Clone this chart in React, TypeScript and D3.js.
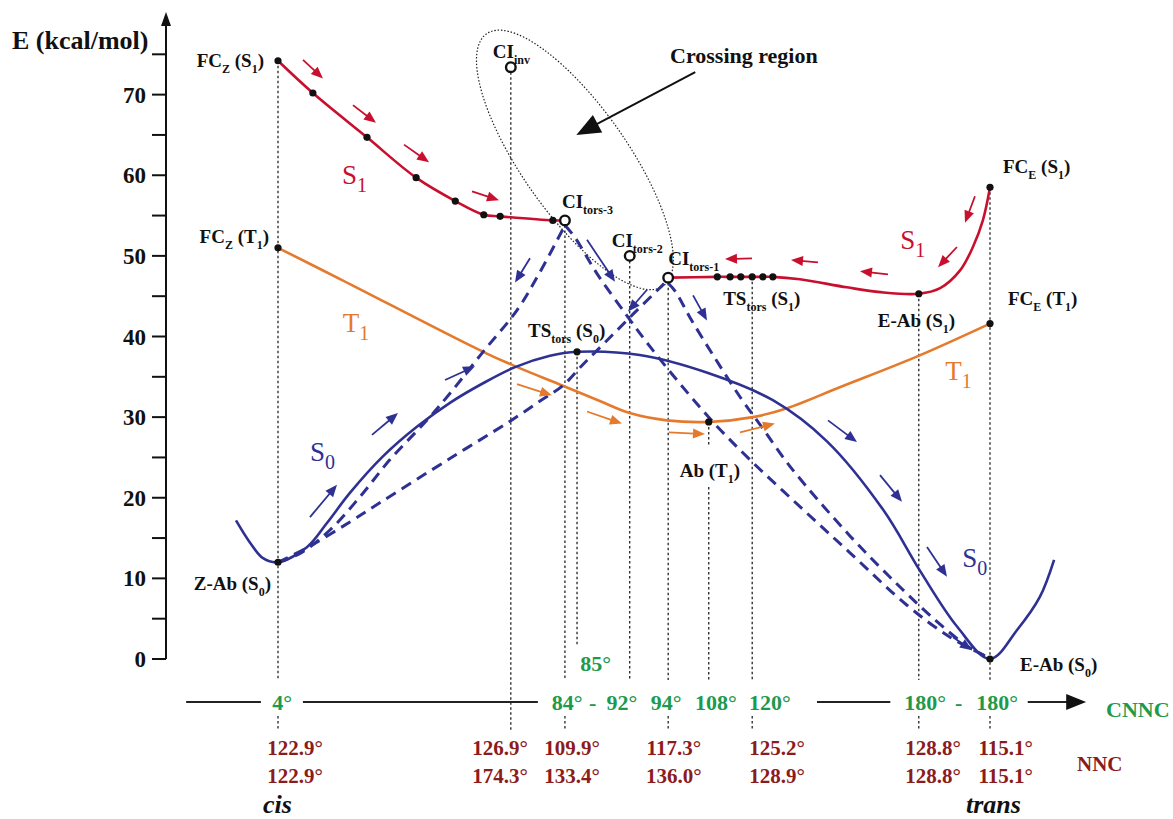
import React from 'react';
import * as d3 from 'd3';

const WIDTH = 1173;
const HEIGHT = 819;
const FONT = "'Liberation Serif', 'Times New Roman', serif";

// colours
const RED = '#c8102e';
const ORANGE = '#e57a2c';
const BLUE = '#2e3192';
const GREEN = '#1d9a4c';
const BROWN = '#8b1c1c';

// ---------- data (reaction coordinate u: 0 = cis, 100 = trans; energy in kcal/mol) ----------
const yTickValues = d3.range(0, 80, 5);
const yTickLabels = [0, 10, 20, 30, 40, 50, 60, 70];

const s1LeftU = [0, 4.9, 12.5, 19.4, 24.9, 28.9, 31.2, 38.6, 40.3];
const s1LeftE = [74.2, 70.2, 64.7, 59.7, 56.8, 55.1, 54.9, 54.4, 54.4];
const s1LeftDots = [0, 1, 2, 3, 4, 5, 6, 7];

const s1RightU = [54.8, 61.7, 63.5, 65.0, 66.6, 68.1, 69.5, 73.3, 79.9, 84.6, 90.0, 93.0, 95.8, 97.6, 99.0, 100];
const s1RightE = [47.3, 47.4, 47.4, 47.4, 47.4, 47.4, 47.4, 47.1, 46.1, 45.5, 45.3, 46.0, 48.2, 51.1, 54.4, 58.5];
const s1RightDots = [1, 2, 3, 4, 5, 6, 10, 15];

const t1U = [0, 9.0, 28.8, 33.6, 40.0, 45.2, 49.4, 54.6, 60.5, 66.7, 71.5, 78.9, 89.7, 100];
const t1E = [51.0, 47.0, 38.1, 36.2, 33.9, 32.0, 30.5, 29.6, 29.4, 30.0, 31.1, 33.7, 37.5, 41.6];
const t1Dots = [0, 8, 13];

const s0U = [-5.9, -3.9, -2.1, 0, 4.1, 6.9, 10.1, 14.7, 19.5, 24.2, 28.8, 33.3, 38.2, 42.0, 50.8, 60.3, 69.5, 77.1, 85.0, 90.2, 95.4, 100, 103.8, 107.0, 109.0];
const s0E = [17.2, 14.4, 12.5, 12.0, 13.9, 16.9, 20.6, 25.1, 28.8, 31.8, 34.2, 36.2, 37.6, 38.1, 37.7, 35.5, 32.1, 27.0, 18.5, 10.9, 4.0, 0, 3.6, 7.7, 12.3];
const s0Dots = [3, 13, 21];

// dashed relaxation paths
const pathAU = [0, 3.1, 7.3, 11.5, 15.7, 20.9, 24.2, 28.8, 33.6, 36.8, 40.3];
const pathAE = [12.0, 13.1, 16.0, 20.1, 24.7, 29.6, 33.0, 38.1, 43.3, 48.0, 53.8];
const pathBU = [0, 4.5, 10.1, 14.7, 24.2, 32.6, 36.8, 40.0, 42.8, 46.2, 49.9, 53.7, 54.8];
const pathBE = [12.0, 14.0, 17.0, 19.6, 24.9, 29.5, 32.0, 33.9, 36.5, 39.5, 42.8, 46.1, 47.1];
const pathDU = [40.3, 41.7, 44.8, 49.0, 52.2, 56.5, 61.1, 66.3, 73.3, 80.3, 88.3, 94.4, 99.3];
const pathDE = [53.8, 52.3, 47.8, 42.6, 38.8, 34.1, 29.4, 24.7, 18.9, 13.2, 6.7, 2.7, 0.4];
const pathEU = [54.8, 55.8, 57.9, 61.1, 64.9, 68.0, 71.9, 80.3, 87.4, 92.6, 96.8, 99.3];
const pathEE = [46.6, 45.6, 42.3, 37.7, 32.5, 28.7, 23.9, 15.3, 8.9, 4.6, 1.6, 0.4];

// conical intersections (hollow markers)
const ciU = [32.7, 40.3, 49.4, 54.8];
const ciE = [73.4, 54.4, 50.0, 47.3];

// vertical guides
const guideU = [0, 32.7, 40.3, 42.0, 49.4, 54.8, 60.5, 66.6, 90.0, 100];
const guideTopE = [74.2, 73.4, 54.4, 38.1, 50.0, 47.3, 29.4, 47.4, 45.3, 58.5];

// arrows [u1, e1, u2, e2]
const redArrows = [
  [3.51, 74.3, 6.32, 72.0],
  [10.53, 68.7, 13.76, 66.5],
  [17.7, 63.8, 21.21, 61.6],
  [27.25, 58.0, 31.04, 56.9],
  [66.57, 49.7, 62.78, 49.6],
  [75.84, 49.2, 72.05, 49.5],
  [85.67, 47.7, 81.74, 48.1],
  [95.36, 51.1, 92.7, 48.6],
  [97.89, 57.4, 96.49, 54.1],
];
const orangeArrows = [
  [33.57, 34.1, 38.48, 32.7],
  [43.4, 30.7, 48.31, 29.2],
  [54.92, 28.1, 59.97, 27.9],
  [64.89, 28.1, 69.8, 29.2],
];
const blueArrows = [
  [4.49, 17.6, 8.29, 21.6],
  [13.2, 27.8, 16.85, 30.5],
  [23.46, 34.6, 27.67, 36.3],
  [77.25, 29.6, 81.32, 26.9],
  [84.55, 22.8, 87.64, 19.5],
  [91.15, 13.9, 93.96, 10.2],
  [35.39, 49.7, 33.29, 46.7],
  [43.4, 52.0, 47.33, 46.8],
  [51.83, 45.8, 49.16, 43.1],
  [58.29, 45.1, 60.25, 42.0],
  [94.8, 2.7, 97.47, 1.1],
];

// bottom angle labels
const cnncLabels = ['4°', '84°', '-', '92°', '94°', '108°', '120°', '180°', '-', '180°'];
const cnncU = [0.6, 40.6, 44.2, 48.3, 54.5, 61.5, 69.1, 90.9, 95.6, 101.0];
const nncRow1 = ['122.9°', '126.9°', '109.9°', '117.3°', '125.2°', '128.8°', '115.1°'];
const nncRow2 = ['122.9°', '174.3°', '133.4°', '136.0°', '128.9°', '128.8°', '115.1°'];
const nncU = [2.4, 31.2, 41.3, 55.6, 70.1, 92.0, 102.2];

type Part = string | { s: string };

const pointLabels: { u: number; e: number; dx: number; dy: number; anchor: string; parts: Part[] }[] = [
  { u: 0, e: 74.2, dx: -14, dy: 6, anchor: 'end', parts: ['FC', { s: 'Z' }, ' (S', { s: '1' }, ')'] },
  { u: 0, e: 51.0, dx: -9, dy: -5, anchor: 'end', parts: ['FC', { s: 'Z' }, ' (T', { s: '1' }, ')'] },
  { u: 0, e: 12.0, dx: -7, dy: 28, anchor: 'end', parts: ['Z-Ab (S', { s: '0' }, ')'] },
  { u: 32.7, e: 73.4, dx: -18, dy: -9, anchor: 'start', parts: ['CI', { s: 'inv' }] },
  { u: 40.3, e: 54.4, dx: -3, dy: -12, anchor: 'start', parts: ['CI', { s: 'tors-3' }] },
  { u: 49.4, e: 50.0, dx: -18, dy: -9, anchor: 'start', parts: ['CI', { s: 'tors-2' }] },
  { u: 54.8, e: 47.3, dx: 0, dy: -13, anchor: 'start', parts: ['CI', { s: 'tors-1' }] },
  { u: 66.6, e: 47.4, dx: -29, dy: 28, anchor: 'start', parts: ['TS', { s: 'tors' }, ' (S', { s: '1' }, ')'] },
  { u: 42.0, e: 38.1, dx: -49, dy: -15, anchor: 'start', parts: ['TS', { s: 'tors' }, ' (S', { s: '0' }, ')'] },
  { u: 60.5, e: 29.4, dx: -29, dy: 55, anchor: 'start', parts: ['Ab (T', { s: '1' }, ')'] },
  { u: 90.0, e: 45.3, dx: -41, dy: 33, anchor: 'start', parts: ['E-Ab (S', { s: '1' }, ')'] },
  { u: 100, e: 58.5, dx: 13, dy: -14, anchor: 'start', parts: ['FC', { s: 'E' }, ' (S', { s: '1' }, ')'] },
  { u: 100, e: 41.6, dx: 18, dy: -19, anchor: 'start', parts: ['FC', { s: 'E' }, ' (T', { s: '1' }, ')'] },
  { u: 100, e: 0, dx: 30, dy: 12, anchor: 'start', parts: ['E-Ab (S', { s: '0' }, ')'] },
];

const stateLabels: { u: number; e: number; main: string; sub: string; color: string }[] = [
  { u: 9.0, e: 58.9, main: 'S', sub: '1', color: RED },
  { u: 87.4, e: 50.8, main: 'S', sub: '1', color: RED },
  { u: 9.1, e: 40.6, main: 'T', sub: '1', color: ORANGE },
  { u: 93.7, e: 34.6, main: 'T', sub: '1', color: ORANGE },
  { u: 4.5, e: 24.6, main: 'S', sub: '0', color: BLUE },
  { u: 96.1, e: 11.4, main: 'S', sub: '0', color: BLUE },
];

// ---------- scales ----------
const x = d3.scaleLinear().domain([0, 100]).range([278, 990]);
const y = d3.scaleLinear().domain([0, 80]).range([659, 14]);

const AXIS_X = 166;
const BASE_Y = 702;

const lineGen = d3
  .line<[number, number]>()
  .x((d) => x(d[0]))
  .y((d) => y(d[1]))
  .curve(d3.curveCatmullRom.alpha(0.5));

const zip = (u: number[], e: number[]) => u.map((v, i) => [v, e[i]] as [number, number]);

function Rich({ x: tx, y: ty, parts, size, subSize, anchor = 'start', fill = '#111', weight = 'bold', italic = false }: any) {
  const off = Math.round(size * 0.3);
  let inSub = false;
  const kids = parts.map((p: Part, i: number) => {
    if (typeof p === 'string') {
      const dy = inSub ? -off : 0;
      inSub = false;
      return (
        <tspan key={i} dy={dy}>
          {p}
        </tspan>
      );
    }
    const dy = inSub ? 0 : off;
    inSub = true;
    return (
      <tspan key={i} dy={dy} fontSize={subSize}>
        {p.s}
      </tspan>
    );
  });
  return (
    <text
      x={tx}
      y={ty}
      fontSize={size}
      fontWeight={weight}
      fontStyle={italic ? 'italic' : 'normal'}
      fontFamily={FONT}
      textAnchor={anchor}
      fill={fill}
    >
      {kids}
    </text>
  );
}

function Arrow({ x1, y1, x2, y2, color, len = 12, w = 10, sw = 1.8 }: any) {
  const dx = x2 - x1;
  const dy = y2 - y1;
  const L = Math.hypot(dx, dy);
  const ux = dx / L;
  const uy = dy / L;
  const bx = x2 - ux * len;
  const by = y2 - uy * len;
  const nx = -uy;
  const ny = ux;
  const pts = [
    [x2, y2],
    [bx + (nx * w) / 2, by + (ny * w) / 2],
    [bx - (nx * w) / 2, by - (ny * w) / 2],
  ]
    .map((p) => p.join(','))
    .join(' ');
  return (
    <g>
      <line x1={x1} y1={y1} x2={bx + ux * 2} y2={by + uy * 2} stroke={color} strokeWidth={sw} />
      <polygon points={pts} fill={color} />
    </g>
  );
}

export default function App() {
  const guideBottom = [680, 730, 680, 645, 680, 680, 680, 680, 680, 680];
  const guideBelow = [true, false, true, false, false, true, false, true, true, true];

  const ell = { cx: x(41.7), cy: y(61.9) };

  return (
    <div style={{ position: 'absolute', left: 0, top: 0 }}>
      <svg width={WIDTH} height={HEIGHT} style={{ display: 'block', background: '#fff' }}>
        {/* y axis */}
        <line x1={AXIS_X} y1={y(0)} x2={AXIS_X} y2={24} stroke="#111" strokeWidth={2} />
        <polygon points={`${AXIS_X},12 ${AXIS_X - 5},26 ${AXIS_X + 5},26`} fill="#111" />
        {yTickValues.map((t) => (
          <line key={t} x1={AXIS_X - 14} x2={AXIS_X} y1={y(t)} y2={y(t)} stroke="#111" strokeWidth={2} />
        ))}
        {yTickLabels.map((t) => (
          <text
            key={t}
            x={AXIS_X - 20}
            y={y(t) + 8}
            textAnchor="end"
            fontFamily={FONT}
            fontWeight="bold"
            fontSize={23}
            fill="#111"
          >
            {t}
          </text>
        ))}
        <text x={12} y={49} fontFamily={FONT} fontWeight="bold" fontSize={26} fill="#111">
          E (kcal/mol)
        </text>

        {/* vertical dotted guides */}
        {guideU.map((u, i) => {
          const gx = x(u);
          const top = y(guideTopE[i]);
          const isAb = i === 6;
          return (
            <g key={i} stroke="#111" strokeWidth={1.2} strokeDasharray="2.5,2.5">
              {isAb ? (
                <>
                  <line x1={gx} x2={gx} y1={top} y2={445} />
                  <line x1={gx} x2={gx} y1={487} y2={guideBottom[i]} />
                </>
              ) : (
                <line x1={gx} x2={gx} y1={top} y2={guideBottom[i]} />
              )}
              {guideBelow[i] && <line x1={gx} x2={gx} y1={BASE_Y + 14} y2={BASE_Y + 27} />}
            </g>
          );
        })}

        {/* crossing region ellipse */}
        <ellipse
          cx={ell.cx}
          cy={ell.cy}
          rx={154}
          ry={53}
          transform={`rotate(55 ${ell.cx} ${ell.cy})`}
          fill="none"
          stroke="#222"
          strokeWidth={1.2}
          strokeDasharray="1.5,1.8"
        />
        <Arrow x1={x(58.6)} y1={y(72.8)} x2={x(41.9)} y2={y(65.0)} color="#111" len={24} w={20} sw={2} />
        <text x={670} y={63} fontFamily={FONT} fontWeight="bold" fontSize={22} fill="#111">
          Crossing region
        </text>

        {/* curves */}
        <path d={lineGen(zip(t1U, t1E)) || ''} fill="none" stroke={ORANGE} strokeWidth={2.6} />
        <path d={lineGen(zip(s0U, s0E)) || ''} fill="none" stroke={BLUE} strokeWidth={2.6} />
        <path d={lineGen(zip(s1LeftU, s1LeftE)) || ''} fill="none" stroke={RED} strokeWidth={2.6} />
        <path d={lineGen(zip(s1RightU, s1RightE)) || ''} fill="none" stroke={RED} strokeWidth={2.6} />

        {/* dashed paths */}
        {[
          zip(pathAU, pathAE),
          zip(pathBU, pathBE),
          zip(pathDU, pathDE),
          zip(pathEU, pathEE),
        ].map((p, i) => (
          <path key={i} d={lineGen(p) || ''} fill="none" stroke={BLUE} strokeWidth={3} strokeDasharray="11,7" />
        ))}

        {/* arrows */}
        {redArrows.map((a, i) => (
          <Arrow key={'r' + i} x1={x(a[0])} y1={y(a[1])} x2={x(a[2])} y2={y(a[3])} color={RED} />
        ))}
        {orangeArrows.map((a, i) => (
          <Arrow key={'o' + i} x1={x(a[0])} y1={y(a[1])} x2={x(a[2])} y2={y(a[3])} color={ORANGE} />
        ))}
        {blueArrows.map((a, i) => (
          <Arrow key={'b' + i} x1={x(a[0])} y1={y(a[1])} x2={x(a[2])} y2={y(a[3])} color={BLUE} />
        ))}

        {/* dots */}
        {s1LeftDots.map((i) => (
          <circle key={'sl' + i} cx={x(s1LeftU[i])} cy={y(s1LeftE[i])} r={3.6} fill="#111" />
        ))}
        {s1RightDots.map((i) => (
          <circle key={'sr' + i} cx={x(s1RightU[i])} cy={y(s1RightE[i])} r={3.6} fill="#111" />
        ))}
        {t1Dots.map((i) => (
          <circle key={'t' + i} cx={x(t1U[i])} cy={y(t1E[i])} r={3.6} fill="#111" />
        ))}
        {s0Dots.map((i) => (
          <circle key={'s0' + i} cx={x(s0U[i])} cy={y(s0E[i])} r={3.6} fill="#111" />
        ))}
        {ciU.map((u, i) => (
          <circle key={'ci' + i} cx={x(u)} cy={y(ciE[i])} r={4.8} fill="#fff" stroke="#111" strokeWidth={2.4} />
        ))}

        {/* point labels */}
        {pointLabels.map((l, i) => (
          <Rich
            key={'pl' + i}
            x={x(l.u) + l.dx}
            y={y(l.e) + l.dy}
            parts={l.parts}
            size={19}
            subSize={12}
            anchor={l.anchor}
          />
        ))}

        {/* state labels */}
        {stateLabels.map((l, i) => (
          <Rich
            key={'st' + i}
            x={x(l.u)}
            y={y(l.e)}
            parts={[l.main, { s: l.sub }]}
            size={27}
            subSize={20}
            weight="normal"
            fill={l.color}
          />
        ))}

        {/* CNNC axis */}
        {[
          [-12.9, -2.4],
          [3.5, 36.5],
          [75.7, 86.0],
          [105.3, 111.0],
        ].map((s, i) => (
          <line key={'ax' + i} x1={x(s[0])} x2={x(s[1])} y1={BASE_Y} y2={BASE_Y} stroke="#222" strokeWidth={2.2} />
        ))}
        <polygon
          points={`${x(113.5)},${BASE_Y} ${x(110.7)},${BASE_Y - 8} ${x(110.7)},${BASE_Y + 8}`}
          fill="#111"
        />
        {cnncLabels.map((t, i) => (
          <text
            key={'c' + i}
            x={x(cnncU[i])}
            y={BASE_Y + 8}
            textAnchor="middle"
            fontFamily={FONT}
            fontWeight="bold"
            fontSize={22}
            fill={GREEN}
          >
            {t}
          </text>
        ))}
        <text x={x(44.6)} y={671} textAnchor="middle" fontFamily={FONT} fontWeight="bold" fontSize={22} fill={GREEN}>
          85°
        </text>
        <text x={1106} y={717} fontFamily={FONT} fontWeight="bold" fontSize={22} fill={GREEN}>
          CNNC
        </text>

        {/* NNC labels */}
        {nncRow1.map((t, i) => (
          <text
            key={'n1' + i}
            x={x(nncU[i])}
            y={755}
            textAnchor="middle"
            fontFamily={FONT}
            fontWeight="bold"
            fontSize={21}
            fill={BROWN}
          >
            {t}
          </text>
        ))}
        {nncRow2.map((t, i) => (
          <text
            key={'n2' + i}
            x={x(nncU[i])}
            y={783}
            textAnchor="middle"
            fontFamily={FONT}
            fontWeight="bold"
            fontSize={21}
            fill={BROWN}
          >
            {t}
          </text>
        ))}
        <text x={1077} y={771} fontFamily={FONT} fontWeight="bold" fontSize={21} fill={BROWN}>
          NNC
        </text>

        <text x={263} y={813} fontFamily={FONT} fontWeight="bold" fontStyle="italic" fontSize={26} fill="#111">
          cis
        </text>
        <text x={966} y={813} fontFamily={FONT} fontWeight="bold" fontStyle="italic" fontSize={26} fill="#111">
          trans
        </text>
      </svg>
    </div>
  );
}
